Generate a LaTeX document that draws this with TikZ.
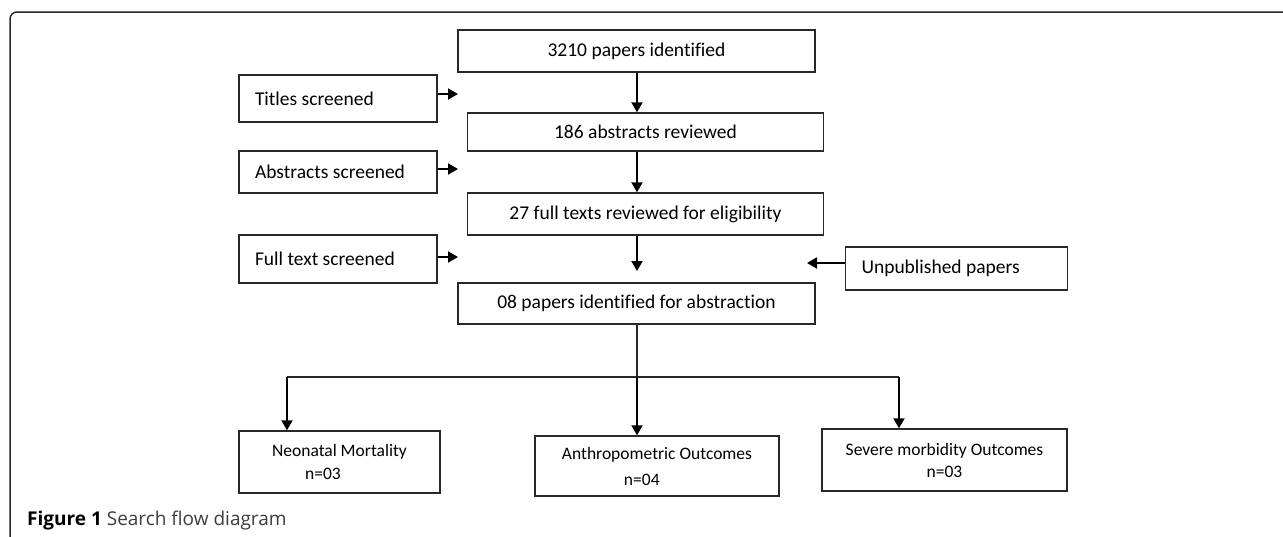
\documentclass[tikz,border=0pt]{standalone}
\usepackage{fontspec}
\setmainfont[Ligatures=NoCommon]{Carlito}
\newfontfamily\capfont{Open Sans}
\usepackage{tikz}
\usetikzlibrary{positioning,calc,arrows.meta}
\definecolor{linegray}{RGB}{40,40,40}
\definecolor{capgray}{RGB}{60,60,60}

\begin{document}
\begin{tikzpicture}[x=1pt,y=-1pt,
box/.style={draw=linegray,line width=1.4pt,inner sep=0pt,align=center,
  font=\fontsize{19.5}{23}\selectfont},
sidebox/.style={box,align=flush left,inner xsep=16pt},
outbox/.style={box,font=\fontsize{17.5}{22}\selectfont},
edge/.style={line width=2pt,draw=black,-{Triangle[length=10pt,width=11pt]}},
link/.style={line width=1.2pt,draw=linegray}]

\useasboundingbox (0,0) rectangle (1283,536);

% frame
\draw[linegray,line width=1.5pt,rounded corners=7pt] (10,540) -- (10,12) -- (1290,12);

% main column
\node[box,minimum width=357pt,minimum height=42pt] (found) at (636.5,51) {3210 papers identified};
\node[box,minimum width=356pt,minimum height=38pt] (abs) at (645.5,132) {186 abstracts reviewed};
\node[box,minimum width=356pt,minimum height=42pt] (full) at (645.5,214) {27 full texts reviewed for eligibility};
\node[box,minimum width=357pt,minimum height=41pt] (final) at (636.5,303.5) {08 papers identified for abstraction};

% screening boxes
\node[sidebox,text width=166pt,minimum height=47pt] (titles) at (338,98.5) {Titles screened};
\node[sidebox,text width=166pt,minimum height=42pt] (abscr) at (338,172) {Abstracts screened};
\node[sidebox,text width=166pt,minimum height=48pt] (fullscr) at (338,259) {Full text screened};
\node[sidebox,text width=190pt,minimum height=43pt] (unpub) at (956.5,268.5) {Unpublished papers};

% outcomes
\node[outbox,align=flush left,minimum width=201pt,minimum height=62pt] (neo) at (339.5,462)
  {Neonatal Mortality\\[1pt]\hspace*{33pt}n=03};
\node[outbox,align=flush left,minimum width=244pt,minimum height=60pt] (anthro) at (657,466)
  {Anthropometric Outcomes\\[4pt]\hspace*{62pt}n=04};
\node[outbox,minimum width=245pt,minimum height=62pt] (severe) at (944.5,460)
  {Severe morbidity Outcomes\\n=03};

% arrow ends
\coordinate (stem) at (637,0);
\coordinate (tip3) at (637,271);
\coordinate (t1) at (458,94);
\coordinate (t2) at (458,169);
\coordinate (t3) at (458,257);
\coordinate (u1) at (807,263);
\coordinate (split) at (637,377);
\coordinate (bl) at (287,377);
\coordinate (br) at (899,377);

\draw[edge] (found.south -| stem) -- (abs.north -| stem);
\draw[edge] (abs.south -| stem) -- (full.north -| stem);
\draw[edge] (full.south -| stem) -- (tip3);

\draw[edge] (titles.east |- t1) -- (t1);
\draw[edge] (abscr.east |- t2) -- (t2);
\draw[edge] (fullscr.east |- t3) -- (t3);
\draw[edge] (unpub.west |- u1) -- (u1);

% branching
\draw[link] (final.south -| stem) -- (split);
\draw[link] (bl) -- (br);
\draw[edge] (bl) -- (neo.north -| bl);
\draw[edge] (split) -- (split |- anthro.north);
\draw[edge] (br) -- (severe.north -| br);

% caption
\node[anchor=west,inner sep=0pt,font=\capfont\fontsize{19}{22}\selectfont,text=capgray] (cap) at (27,521)
  {{\bfseries\color{black}Figure 1} Search flow diagram};

\end{tikzpicture}
\end{document}
